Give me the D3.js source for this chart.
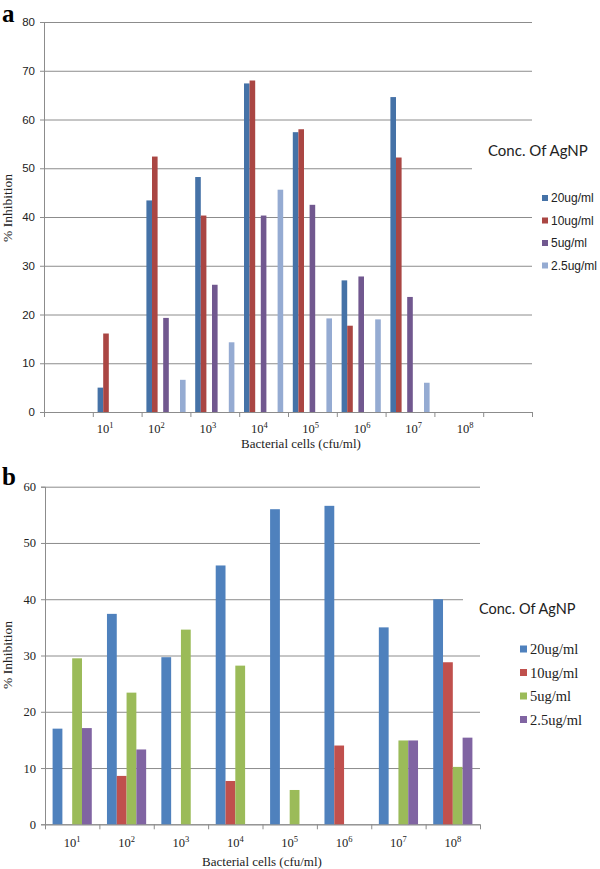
<!DOCTYPE html>
<html>
<head>
<meta charset="utf-8">
<script src="https://cdn.jsdelivr.net/npm/d3@7/dist/d3.min.js"></script>
<style>
  html, body { margin: 0; padding: 0; background: #fff; }
  svg { display: block; }
</style>
</head>
<body>
<svg id="chart" width="600" height="869"></svg>
<script>
// ---------------- DATA: panel a ----------------
const catsA = [1, 2, 3, 4, 5, 6, 7, 8, 9, 10];
const labelsA = ["1", "2", "3", "4", "5", "6", "7", "8"];          // exponents of 10
const seriesA = ["20ug/ml", "10ug/ml", "5ug/ml", "2.5ug/ml"];
const a20  = [null, 5.0, 43.4, 48.2, 67.4, 57.4, 27.0, 64.6, null, null];
const a10  = [null, 16.1, 52.4, 40.3, 68.0, 58.0, 17.7, 52.2, null, null];
const a5   = [null, null, 19.3, 26.1, 40.3, 42.5, 27.8, 23.6, null, null];
const a25  = [null, null, 6.6, 14.3, 45.6, 19.2, 19.0, 6.0, null, null];
const slotsA = [0, 1, 3, 6];          // bar slot of each series within the 7-slot group
const yTicksA = [0, 10, 20, 30, 40, 50, 60, 70, 80];

// ---------------- DATA: panel b ----------------
const catsB = ["1", "2", "3", "4", "5", "6", "7", "8"];            // exponents of 10
const seriesB = ["20ug/ml", "10ug/ml", "5ug/ml", "2.5ug/ml"];
const b20  = [17.0, 37.4, 29.7, 46.0, 56.0, 56.6, 35.0, 40.0];
const b10  = [0, 8.6, 0, 7.7, 0, 14.0, 0, 28.8];
const b5   = [29.5, 23.4, 34.6, 28.2, 6.1, 0, 14.9, 10.2];
const b25  = [17.1, 13.3, 0, 0, 0, 0, 14.9, 15.4];
const yTicksB = [0, 10, 20, 30, 40, 50, 60];

const colorsA = ["#4572A7", "#AA4643", "#71588F", "#95ABD2"];
const colorsB = ["#4F81BD", "#C0504D", "#9BBB59", "#8064A2"];

const svg = d3.select("#chart");
const GRID = "#8c8c8c";
const SERIF = "'Liberation Serif', 'Times New Roman', serif";
const SANS = "'Liberation Sans', Arial, sans-serif";
const TITLEF = "Lato, 'Open Sans', sans-serif";

function drawPanel(cfg) {
  const g = svg.append("g");
  const x0 = d3.scaleBand().domain(cfg.cats).range([cfg.left, cfg.right]).paddingInner(0).paddingOuter(0);
  const x1 = d3.scaleBand().domain(d3.range(cfg.nSlots)).range([0, x0.bandwidth()])
               .paddingInner(0).paddingOuter(cfg.outerPad);
  const y = d3.scaleLinear().domain([0, cfg.yMax]).range([cfg.bottom, cfg.top]);

  // gridlines
  g.append("g").attr("transform", `translate(${cfg.left},0)`)
    .call(d3.axisLeft(y).tickValues(cfg.yTicks).tickSize(-(cfg.right - cfg.left)).tickFormat(""))
    .call(s => s.select(".domain").remove())
    .call(s => s.selectAll("line").attr("stroke", GRID).attr("stroke-width", 1));

  // y axis with labels and short outer ticks
  g.append("g").attr("transform", `translate(${cfg.left},0)`)
    .call(d3.axisLeft(y).tickValues(cfg.yTicks).tickSize(4).tickPadding(5))
    .call(s => s.select(".domain").attr("stroke", GRID))
    .call(s => s.selectAll("line").attr("stroke", GRID))
    .call(s => s.selectAll("text").attr("fill", "#222").attr("font-family", cfg.yFont)
                 .attr("font-size", cfg.yFontSize));

  // x axis: line with boundary ticks
  const bounds = cfg.cats.map(c => x0(c)).concat([cfg.right]);
  g.append("line").attr("x1", cfg.left).attr("x2", cfg.right)
    .attr("y1", cfg.bottom + 0.5).attr("y2", cfg.bottom + 0.5).attr("stroke", GRID);
  g.selectAll(".xt").data(bounds).enter().append("line")
    .attr("x1", d => d + 0.5).attr("x2", d => d + 0.5)
    .attr("y1", cfg.bottom).attr("y2", cfg.bottom + 5).attr("stroke", GRID);

  // bars
  cfg.values.forEach((vals, si) => {
    g.append("g").selectAll("rect")
      .data(cfg.cats.map((c, i) => ({ c, v: vals[i] })).filter(d => d.v != null && d.v > 0))
      .enter().append("rect")
      .attr("x", d => x0(d.c) + x1(cfg.slots[si]))
      .attr("width", x1.bandwidth())
      .attr("y", d => y(d.v))
      .attr("height", d => y(0) - y(d.v))
      .attr("fill", cfg.colors[si]);
  });

  // x tick labels 10^n
  const lx = cfg.labelScale;
  const lt = g.selectAll(".xl").data(cfg.labels).enter().append("text")
    .attr("x", d => lx(d)).attr("y", cfg.labelY)
    .attr("text-anchor", "middle").attr("font-family", SERIF)
    .attr("font-size", cfg.labelSize).attr("fill", "#222");
  lt.append("tspan").text("10");
  lt.append("tspan").attr("dy", -5).attr("font-size", cfg.labelSize * 0.68).text(d => d);

  // axis titles
  g.append("text").attr("x", cfg.xTitleX).attr("y", cfg.xTitleY).attr("text-anchor", "middle")
    .attr("font-family", SERIF).attr("font-size", 13).attr("fill", "#222")
    .text("Bacterial cells (cfu/ml)");
  g.append("text").attr("transform", `translate(${cfg.yTitleX},${cfg.yTitleY}) rotate(-90)`)
    .attr("text-anchor", "middle").attr("font-family", SERIF).attr("font-size", 13.5)
    .attr("fill", "#222").text("% Inhibition");

  // panel letter
  g.append("text").attr("x", 2).attr("y", cfg.letterY).attr("font-family", SERIF)
    .attr("font-weight", "bold").attr("font-size", 25).attr("fill", "#000").text(cfg.letter);

  // legend
  g.append("rect").attr("x", cfg.legTitleX - 16).attr("y", cfg.legTitleY - 20)
    .attr("width", 600 - cfg.legTitleX + 16).attr("height", 34).attr("fill", "#fff");
  g.append("text").attr("x", cfg.legTitleX).attr("y", cfg.legTitleY)
    .attr("font-family", TITLEF).attr("font-size", cfg.legTitleSize).attr("fill", "#222")
    .text("Conc. Of AgNP");
  const leg = g.selectAll(".lg").data(cfg.series).enter().append("g")
    .attr("transform", (d, i) => `translate(${cfg.legX},${cfg.legY + i * cfg.legStep})`);
  leg.append("rect").attr("x", 0).attr("y", -cfg.sq / 2).attr("width", cfg.sq).attr("height", cfg.sq)
    .attr("fill", (d, i) => cfg.colors[i]);
  leg.append("text").attr("x", cfg.sq + 3).attr("y", 0).attr("dy", "0.35em")
    .attr("font-family", cfg.legFont).attr("font-size", cfg.legFontSize).attr("fill", "#222")
    .text(d => d);
}

drawPanel({
  cats: catsA, nSlots: 7, outerPad: 0.857, slots: slotsA,
  left: 44, right: 532, top: 22, bottom: 412, yMax: 80, yTicks: yTicksA,
  yFont: SANS, yFontSize: 11.5,
  values: [a20, a10, a5, a25], colors: colorsA, series: seriesA,
  labels: labelsA, labelScale: d3.scalePoint().domain(labelsA).range([105, 465]),
  labelY: 433, labelSize: 12.5,
  xTitleX: 301, xTitleY: 448, yTitleX: 12, yTitleY: 208,
  letter: "a", letterY: 22,
  legTitleX: 488, legTitleY: 156, legTitleSize: 15,
  legX: 542, legY: 198, legStep: 22.5, sq: 6, legFont: SANS, legFontSize: 12
});

const x0B = d3.scaleBand().domain(catsB).range([45, 480]);
drawPanel({
  cats: catsB, nSlots: 4, outerPad: 0.775, slots: [0, 1, 2, 3],
  left: 45, right: 480, top: 486.7, bottom: 824.3, yMax: 60, yTicks: yTicksB,
  yFont: SERIF, yFontSize: 12.5,
  values: [b20, b10, b5, b25], colors: colorsB, series: seriesB,
  labels: catsB, labelScale: d => x0B(d) + x0B.bandwidth() / 2,
  labelY: 847, labelSize: 12.5,
  xTitleX: 262, xTitleY: 866, yTitleX: 12, yTitleY: 655,
  letter: "b", letterY: 485,
  legTitleX: 479, legTitleY: 614, legTitleSize: 14.5,
  legX: 520, legY: 649, legStep: 23.5, sq: 7, legFont: SERIF, legFontSize: 14.5
});
</script>
</body>
</html>
